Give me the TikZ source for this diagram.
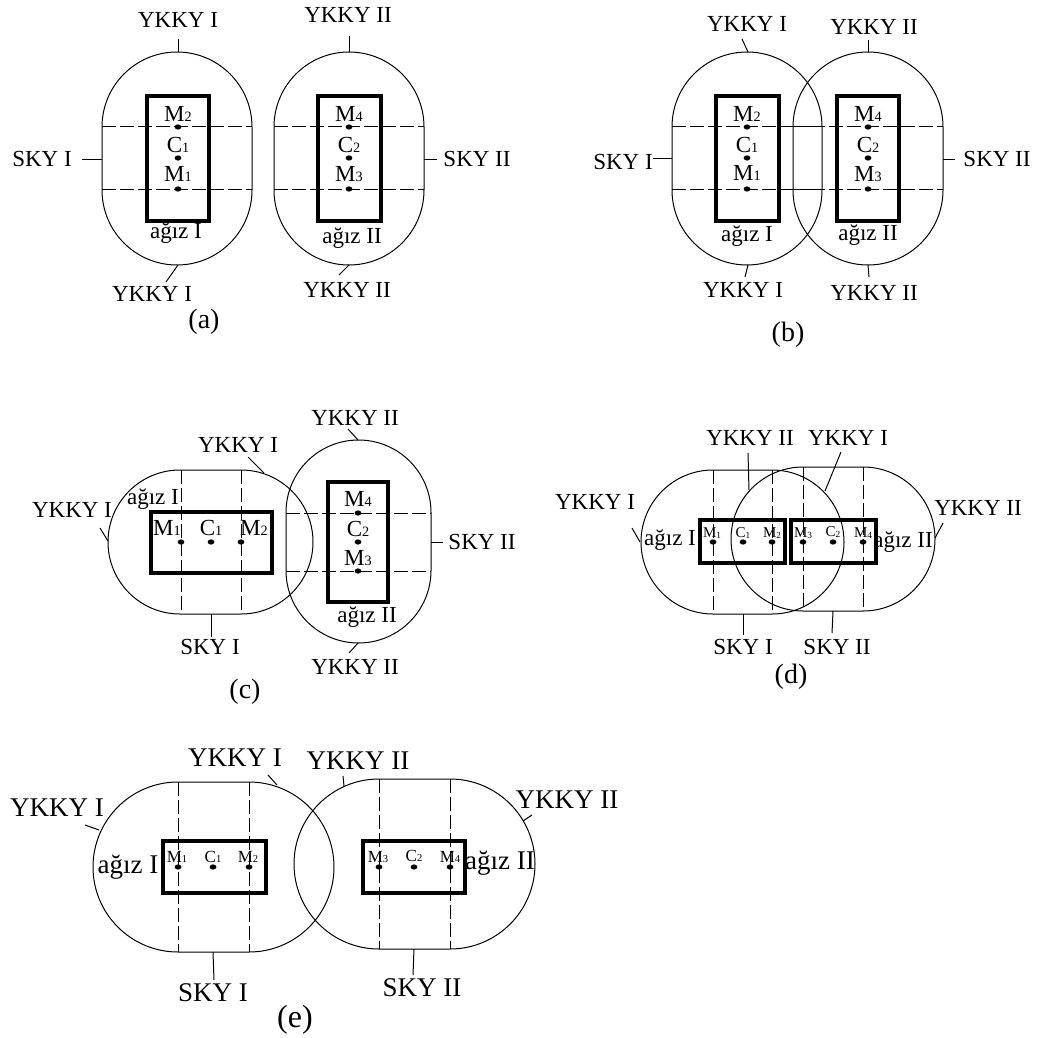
\documentclass[tikz,border=0pt]{standalone}
\usepackage{graphicx}
\usepackage{fontspec}
\setmainfont{Liberation Serif}
\newcommand{\ssub}[1]{\raisebox{-0.05ex}{\scalebox{0.62}{#1}}}
\newcommand{\leadline}[3]{\coordinate (#1a) at (#2); \coordinate (#1b) at (#3); \draw[lead] (#1a) -- (#1b);}
\tikzset{
  lb/.style={font=\fontsize{11.5}{13}\selectfont, inner sep=0pt},
  lbe/.style={font=\fontsize{13.5}{15}\selectfont, inner sep=0pt},
  panelcap/.style={font=\fontsize{14}{16}\selectfont, inner sep=0pt},
  panelcapE/.style={font=\fontsize{16}{18}\selectfont, inner sep=0pt},
  ml/.style={font=\fontsize{11.5}{13}\selectfont, inner sep=0pt},
  mls/.style={font=\fontsize{7.5}{9}\selectfont, inner sep=0pt},
  mle/.style={font=\fontsize{8.5}{10}\selectfont, inner sep=0pt},
  zone/.style={draw, line width=0.5pt},
  mouth/.style={draw, line width=2pt},
  axis/.style={draw, line width=0.5pt, dash pattern=on 7pt off 2pt},
  lead/.style={draw, line width=0.5pt},
  dot/.style={ellipse, fill, inner sep=0pt, minimum width=3.4pt, minimum height=2.6pt},
}
\usetikzlibrary{shapes.geometric}
\begin{document}
\begin{tikzpicture}[x=0.5pt, y=-0.5pt]
\useasboundingbox (0,0) rectangle (1037,1038);

% ================= (a) =================
\draw[zone, rounded corners=37.5pt] (102,52) rectangle (252,265);
\draw[zone, rounded corners=37.5pt] (274,52) rectangle (424,265);
\draw[axis] (102,127) -- (252,127);
\draw[axis] (102,189) -- (252,189);
\draw[axis] (274,127) -- (424,127);
\draw[axis] (274,189) -- (424,189);
\draw[mouth] (147,96) rectangle (209,221);
\draw[mouth] (318,96) rectangle (381,221);
\node[dot] (aM2) at (178,127) {};
\node[dot] (aC1) at (178,158) {};
\node[dot] (aM1) at (178,189) {};
\node[dot] (aM4) at (349,127) {};
\node[dot] (aC2) at (349,158) {};
\node[dot] (aM3) at (349,189) {};
\node[ml] (aLM2) at (178,114) {M\ssub{2}};
\node[ml] (aLC1) at (178,145) {C\ssub{1}};
\node[ml] (aLM1) at (178,174) {M\ssub{1}};
\node[ml] (aLM4) at (349,114) {M\ssub{4}};
\node[ml] (aLC2) at (349,145) {C\ssub{2}};
\node[ml] (aLM3) at (349,174) {M\ssub{3}};
\node[lb] (aT1) at (178,20) {YKKY I};
\node[lb] (aT2) at (348,15) {YKKY II};
\node[lb] (aS1) at (42,159) {SKY I};
\node[lb] (aS2) at (477,159) {SKY II};
\node[lb] (aG1) at (176,233) {ağız I};
\node[lb] (aG2) at (352,238) {ağız II};
\node[lb] (aB1) at (152,294) {YKKY I};
\node[lb] (aB2) at (347,290) {YKKY II};
\node[panelcap] (capa) at (204,322) {(a)};
\leadline{aLt1}{178,39}{178,52}
\leadline{aLt2}{349,36}{349,52}
\leadline{aLs1}{82,159}{102,159}
\leadline{aLs2}{424,159}{437,159}
\leadline{aLb1}{178,265}{166,282}
\leadline{aLb2}{349,265}{339,275}

% ================= (b) =================
\draw[zone, rounded corners=37.5pt] (672,52) rectangle (822,265);
\draw[zone, rounded corners=37.5pt] (793,52) rectangle (943,265);
\draw[axis] (672,127) -- (822,127);
\draw[axis] (672,189) -- (822,189);
\draw[axis] (793,127) -- (943,127);
\draw[axis] (793,189) -- (943,189);
\draw[mouth] (716,96) rectangle (779,221);
\draw[mouth] (837,96) rectangle (899,221);
\node[dot] (bM2) at (747,127) {};
\node[dot] (bC1) at (747,158) {};
\node[dot] (bM1) at (747,189) {};
\node[dot] (bM4) at (868,127) {};
\node[dot] (bC2) at (868,158) {};
\node[dot] (bM3) at (868,189) {};
\node[ml] (bLM2) at (747,114) {M\ssub{2}};
\node[ml] (bLC1) at (747,145) {C\ssub{1}};
\node[ml] (bLM1) at (747,173) {M\ssub{1}};
\node[ml] (bLM4) at (868,114) {M\ssub{4}};
\node[ml] (bLC2) at (868,145) {C\ssub{2}};
\node[ml] (bLM3) at (868,174) {M\ssub{3}};
\node[lb] (bT1) at (747,24) {YKKY I};
\node[lb] (bT2) at (874,27) {YKKY II};
\node[lb] (bS1) at (623,162) {SKY I};
\node[lb] (bS2) at (997,159) {SKY II};
\node[lb] (bG1) at (747,236) {ağız I};
\node[lb] (bG2) at (868,235) {ağız II};
\node[lb] (bB1) at (743,290) {YKKY I};
\node[lb] (bB2) at (874,293) {YKKY II};
\node[panelcap] (capb) at (788,335) {(b)};
\leadline{bLt1}{742,39}{748,52}
\leadline{bLt2}{868,40}{868,52}
\leadline{bLs1}{653,158}{672,158}
\leadline{bLs2}{943,159}{955,159}
\leadline{bLb1}{748,265}{745,277}
\leadline{bLb2}{868,265}{869,277}

% ================= (c) =================
\draw[zone, rounded corners=36pt] (108,470) rectangle (313,614);
\draw[zone, rounded corners=36.25pt] (286,440) rectangle (431,643);
\draw[axis] (181,470) -- (181,614);
\draw[axis] (241,470) -- (241,614);
\draw[axis] (286,513) -- (431,513);
\draw[axis] (286,571) -- (431,571);
\draw[mouth] (151,512) rectangle (272,573);
\draw[mouth] (328,482) rectangle (388,602);
\node[dot] (cM1) at (181,542) {};
\node[dot] (cC1) at (211,542) {};
\node[dot] (cM2) at (241,542) {};
\node[dot] (cM4) at (358,513) {};
\node[dot] (cC2) at (358,542) {};
\node[dot] (cM3) at (358,571) {};
\node[ml] (cLM1) at (167,528) {M\ssub{1}};
\node[ml] (cLC1) at (211,528) {C\ssub{1}};
\node[ml] (cLM2) at (254,528) {M\ssub{2}};
\node[ml] (cLM4) at (358,499) {M\ssub{4}};
\node[ml] (cLC2) at (358,529) {C\ssub{2}};
\node[ml] (cLM3) at (358,558) {M\ssub{3}};
\node[lb] (cG1) at (153,499) {ağız I};
\node[lb] (cL1) at (72,510) {YKKY I};
\node[lb] (cT1) at (238,445) {YKKY I};
\node[lb] (cS1) at (210,647) {SKY I};
\node[lb] (cT2) at (355,418) {YKKY II};
\node[lb] (cS2) at (482,542) {SKY II};
\node[lb] (cG2) at (367,617) {ağız II};
\node[lb] (cB2) at (355,667) {YKKY II};
\node[panelcap] (capc) at (245,692) {(c)};
\leadline{cLl1}{100,528}{108,541}
\leadline{cLt1}{248,457}{264,473}
\leadline{cLs1}{211,614}{211,637}
\leadline{cLt2}{348,429}{358,440}
\leadline{cLs2}{431,542}{443,542}
\leadline{cLb2}{358,643}{349,653}

% ================= (d) =================
\draw[zone, rounded corners=36pt] (641,470) rectangle (844,614);
\draw[zone, rounded corners=36pt] (731,467) rectangle (935,611);
\draw[axis] (713,470) -- (713,614);
\draw[axis] (772,470) -- (772,614);
\draw[axis] (803,467) -- (803,611);
\draw[axis] (863,467) -- (863,611);
\draw[mouth] (700,520) rectangle (785,563);
\draw[mouth] (791,520) rectangle (876,563);
\node[dot] (dM1) at (713,542) {};
\node[dot] (dC1) at (743,542) {};
\node[dot] (dM2) at (772,542) {};
\node[dot] (dM3) at (803,542) {};
\node[dot] (dC2) at (833,542) {};
\node[dot] (dM4) at (863,542) {};
\node[mls] (dLM1) at (712,533) {M\ssub{1}};
\node[mls] (dLC1) at (743,533) {C\ssub{1}};
\node[mls] (dLM2) at (772,533) {M\ssub{2}};
\node[mls] (dLM3) at (803,533) {M\ssub{3}};
\node[mls] (dLC2) at (833,532) {C\ssub{2}};
\node[mls] (dLM4) at (863,533) {M\ssub{4}};
\node[lb] (dG1) at (670,540) {ağız I};
\node[lb] (dG2) at (903,542) {ağız II};
\node[lb] (dL1) at (595,502) {YKKY I};
\node[lb] (dR2) at (978,508) {YKKY II};
\node[lb] (dT2) at (750,438) {YKKY II};
\node[lb] (dT1) at (848,438) {YKKY I};
\node[lb] (dS1) at (743,647) {SKY I};
\node[lb] (dS2) at (837,647) {SKY II};
\node[panelcap] (capd) at (791,677) {(d)};
\leadline{dLl1}{632,528}{640,542}
\leadline{dLr2}{943,523}{935,538}
\leadline{dLt2}{748,453}{749,490}
\leadline{dLt1}{841,452}{825,491}
\leadline{dLs1}{743,614}{743,635}
\leadline{dLs2}{833,611}{832,633}

% ================= (e) =================
\draw[zone, rounded corners=42.5pt] (93,782) rectangle (334,952);
\draw[zone, rounded corners=42.5pt] (294,779) rectangle (535,949);
\draw[axis] (178,782) -- (178,952);
\draw[axis] (249,782) -- (249,952);
\draw[axis] (379,779) -- (379,949);
\draw[axis] (450,779) -- (450,949);
\draw[mouth] (163,841) rectangle (266,893);
\draw[mouth] (363,841) rectangle (465,893);
\node[dot] (eM1) at (178,867) {};
\node[dot] (eC1) at (213,867) {};
\node[dot] (eM2) at (249,867) {};
\node[dot] (eM3) at (379,867) {};
\node[dot] (eC2) at (414,867) {};
\node[dot] (eM4) at (450,867) {};
\node[mle] (eLM1) at (177,857) {M\ssub{1}};
\node[mle] (eLC1) at (213,857) {C\ssub{1}};
\node[mle] (eLM2) at (248,857) {M\ssub{2}};
\node[mle] (eLM3) at (378,857) {M\ssub{3}};
\node[mle] (eLC2) at (414,856) {C\ssub{2}};
\node[mle] (eLM4) at (450,857) {M\ssub{4}};
\node[lbe] (eG1) at (128,867) {ağız I};
\node[lbe] (eG2) at (500,863) {ağız II};
\node[lbe] (eL1) at (57,808) {YKKY I};
\node[lbe] (eT1) at (235,758) {YKKY I};
\node[lbe] (eT2) at (358,761) {YKKY II};
\node[lbe] (eR2) at (567,800) {YKKY II};
\node[lbe] (eS1) at (213,993) {SKY I};
\node[lbe] (eS2) at (422,988) {SKY II};
\node[panelcapE] (cape) at (295,1020) {(e)};
\leadline{eLl1}{85,825}{99,830}
\leadline{eLt1}{268,775}{277,785}
\leadline{eLt2}{343,776}{344,786}
\leadline{eLr2}{532,815}{523,821}
\leadline{eLs1}{213,952}{214,980}
\leadline{eLs2}{414,949}{413,975}
\end{tikzpicture}
\end{document}
